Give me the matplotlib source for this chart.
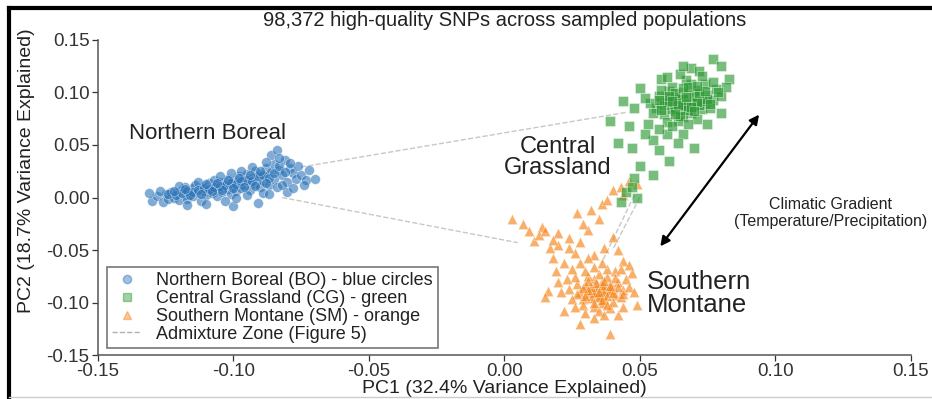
import matplotlib
matplotlib.use("Agg")
from matplotlib import pyplot as plt
from matplotlib.lines import Line2D

plt.rcParams["font.family"] = ["Liberation Sans", "DejaVu Sans"]

# PCA scores (PC1, PC2)
bo_x = [-0.130, -0.128, -0.126, -0.125, -0.124, -0.123, -0.122, -0.121, -0.120, -0.119,
        -0.118, -0.118, -0.117, -0.116, -0.115, -0.115, -0.114, -0.113, -0.112, -0.112,
        -0.111, -0.110, -0.110, -0.109, -0.108, -0.108, -0.107, -0.106, -0.106, -0.105,
        -0.104, -0.104, -0.103, -0.102, -0.102, -0.101, -0.100, -0.100, -0.099, -0.098,
        -0.098, -0.097, -0.096, -0.096, -0.095, -0.094, -0.094, -0.093, -0.092, -0.092,
        -0.091, -0.090, -0.090, -0.089, -0.088, -0.088, -0.087, -0.086, -0.085, -0.085,
        -0.084, -0.083, -0.082, -0.081, -0.080, -0.079, -0.078, -0.077, -0.086, -0.084,
        -0.076, -0.075, -0.073, -0.080, -0.091, -0.100, -0.110, -0.117, -0.103, -0.095,
        -0.089, -0.107, -0.113, -0.097, -0.093, -0.120, -0.127, -0.099, -0.105, -0.088,
        -0.082, -0.078, -0.087, -0.101, -0.070, -0.072, -0.074, -0.131,
        -0.124, -0.121, -0.119, -0.117, -0.115, -0.113, -0.111, -0.109, -0.107, -0.105,
        -0.103, -0.101, -0.099, -0.097, -0.095, -0.093, -0.091, -0.089, -0.087, -0.085,
        -0.116, -0.112, -0.108, -0.104, -0.100, -0.096, -0.092, -0.088, -0.110, -0.106,
        -0.102, -0.098, -0.094, -0.090, -0.118, -0.122, -0.083, -0.081, -0.079, -0.083]
bo_y = [-0.003, 0.001, -0.004, 0.003, -0.001, 0.005, 0.000, 0.004, -0.002, 0.007,
        0.002, 0.010, -0.001, 0.005, 0.009, 0.001, 0.012, 0.004, 0.008, -0.003,
        0.011, 0.006, 0.002, 0.014, 0.009, 0.004, 0.012, 0.007, 0.001, 0.015,
        0.010, 0.005, 0.013, 0.008, 0.018, 0.003, 0.011, 0.016, 0.006, 0.014,
        0.020, 0.009, 0.017, 0.012, 0.022, 0.015, 0.007, 0.019, 0.013, 0.025,
        0.018, 0.010, 0.022, 0.016, 0.028, 0.020, 0.012, 0.024, 0.018, 0.032,
        0.010, 0.026, 0.021, 0.036, 0.015, 0.028, 0.023, 0.018, 0.040, 0.045,
        0.030, 0.021, 0.017, 0.005, -0.005, -0.008, -0.006, -0.007, -0.003, 0.002,
        0.004, 0.017, 0.015, 0.025, 0.029, 0.011, 0.006, 0.000, 0.020, 0.034,
        0.012, 0.009, 0.003, 0.023, 0.018, 0.026, 0.012, 0.004,
        0.003, 0.002, 0.004, 0.006, 0.005, 0.007, 0.009, 0.008, 0.010, 0.011,
        0.012, 0.014, 0.013, 0.016, 0.017, 0.016, 0.020, 0.021, 0.019, 0.023,
        0.002, 0.003, 0.006, 0.007, 0.009, 0.010, 0.011, 0.014, 0.013, 0.014,
        0.017, 0.019, 0.021, 0.025, 0.008, 0.006, 0.030, 0.024, 0.033, 0.038]

cg_x = [0.065, 0.062, 0.068, 0.070, 0.060, 0.066, 0.072, 0.063, 0.058, 0.069,
        0.074, 0.061, 0.067, 0.064, 0.071, 0.056, 0.059, 0.075, 0.073, 0.066,
        0.062, 0.069, 0.057, 0.054, 0.077, 0.078, 0.064, 0.060, 0.071, 0.067,
        0.063, 0.068, 0.055, 0.052, 0.074, 0.080, 0.076, 0.058, 0.070, 0.065,
        0.061, 0.066, 0.072, 0.069, 0.063,
        0.077, 0.069, 0.072, 0.058, 0.083, 0.044, 0.039, 0.048, 0.050, 0.046,
        0.053, 0.061, 0.048, 0.055, 0.070, 0.047, 0.055, 0.060, 0.052, 0.066,
        0.075, 0.080, 0.082, 0.065, 0.060, 0.050, 0.045, 0.047, 0.043, 0.049,
        0.042, 0.057, 0.064,
        0.064, 0.067, 0.070, 0.062, 0.066, 0.073, 0.059, 0.068, 0.071, 0.063,
        0.060, 0.066, 0.075, 0.057, 0.069, 0.072, 0.065, 0.061, 0.074, 0.068,
        0.058, 0.064, 0.070, 0.076, 0.062, 0.067, 0.063, 0.071, 0.079, 0.077,
        0.073, 0.080, 0.066, 0.062, 0.057, 0.068]
cg_y = [0.090, 0.088, 0.093, 0.087, 0.095, 0.100, 0.095, 0.082, 0.090, 0.080,
        0.090, 0.101, 0.085, 0.096, 0.102, 0.085, 0.079, 0.098, 0.084, 0.077,
        0.105, 0.108, 0.097, 0.090, 0.093, 0.103, 0.073, 0.072, 0.075, 0.112,
        0.091, 0.098, 0.080, 0.095, 0.108, 0.097, 0.085, 0.102, 0.092, 0.083,
        0.093, 0.094, 0.088, 0.090, 0.086,
        0.132, 0.123, 0.120, 0.113, 0.113, 0.092, 0.073, 0.085, 0.104, 0.068,
        0.070, 0.035, 0.019, 0.021, 0.047, 0.047, 0.055, 0.060, 0.060, 0.060,
        0.070, 0.080, 0.105, 0.118, 0.115, 0.030, 0.005, 0.010, -0.004, 0.000,
        0.052, 0.045, 0.052,
        0.094, 0.089, 0.097, 0.084, 0.087, 0.092, 0.088, 0.083, 0.091, 0.099,
        0.091, 0.104, 0.094, 0.093, 0.086, 0.099, 0.078, 0.097, 0.101, 0.105,
        0.083, 0.088, 0.082, 0.089, 0.092, 0.096, 0.079, 0.106, 0.100, 0.110,
        0.116, 0.125, 0.125, 0.068, 0.065, 0.070]

sm_x = [0.035, 0.032, 0.038, 0.036, 0.030, 0.040, 0.034, 0.037, 0.031, 0.041,
        0.033, 0.039, 0.028, 0.036, 0.042, 0.029, 0.035, 0.038, 0.031, 0.044,
        0.033, 0.039, 0.027, 0.040, 0.034, 0.036, 0.032, 0.037, 0.043, 0.030,
        0.026, 0.045, 0.041, 0.035, 0.029, 0.024, 0.046, 0.038, 0.033, 0.036,
        0.039, 0.028, 0.033, 0.042, 0.022, 0.016, 0.015, 0.020, 0.047, 0.044,
        0.048, 0.049, 0.031, 0.037, 0.026, 0.040, 0.022, 0.018, 0.028, 0.033,
        0.003, 0.007, 0.014, 0.020, 0.017, 0.011, 0.009, 0.013, 0.024, 0.020,
        0.040, 0.049, 0.036, 0.032, 0.027, 0.044, 0.046, 0.038, 0.043, 0.035,
        0.029, 0.042, 0.025, 0.019, 0.046,
        0.034, 0.037, 0.033, 0.036, 0.039, 0.032, 0.035, 0.038, 0.031, 0.040,
        0.034, 0.037, 0.030, 0.042, 0.036, 0.033, 0.029, 0.041, 0.027, 0.044,
        0.038, 0.031, 0.035, 0.039, 0.025, 0.021, 0.023, 0.043, 0.028, 0.031,
        0.036, 0.024, 0.018, 0.015, 0.037, 0.044, 0.030, 0.026]
sm_y = [-0.085, -0.088, -0.090, -0.080, -0.083, -0.086, -0.094, -0.097, -0.092, -0.093,
        -0.078, -0.082, -0.090, -0.100, -0.080, -0.097, -0.073, -0.076, -0.075, -0.088,
        -0.104, -0.105, -0.082, -0.099, -0.090, -0.087, -0.096, -0.084, -0.095, -0.070,
        -0.076, -0.078, -0.070, -0.108, -0.102, -0.087, -0.085, -0.068, -0.066, -0.093,
        -0.130, -0.120, -0.115, -0.112, -0.108, -0.089, -0.095, -0.080, -0.072, -0.060,
        -0.090, -0.102, -0.031, -0.048, -0.053, -0.038, -0.062, -0.058, -0.042, -0.055,
        -0.020, -0.025, -0.028, -0.034, -0.048, -0.041, -0.032, -0.036, -0.039, -0.045,
        0.007, 0.013, -0.006, -0.012, -0.015, 0.002, 0.016, -0.002, 0.010, -0.020,
        -0.025, -0.050, -0.068, -0.070, -0.064,
        -0.086, -0.089, -0.091, -0.083, -0.088, -0.085, -0.095, -0.094, -0.088, -0.091,
        -0.081, -0.079, -0.094, -0.085, -0.098, -0.100, -0.086, -0.077, -0.092, -0.092,
        -0.102, -0.079, -0.090, -0.084, -0.097, -0.090, -0.078, -0.068, -0.062, -0.058,
        -0.062, -0.048, -0.040, -0.032, -0.112, -0.104, -0.110, -0.104]

# admixture links (x0, x1), (y0, y1)
link_x = [(-0.075, 0.045), (-0.082, 0.005), (0.048, 0.036), (0.050, 0.040)]
link_y = [(0.029, 0.081), (0.000, -0.043), (0.002, -0.062), (0.000, -0.050)]

fig = plt.figure(figsize=(9.32, 3.99), dpi=100)
ax = fig.add_axes([0.105, 0.110, 0.872, 0.790])

for i in range(len(link_x)):
    ax.plot(link_x[i], link_y[i], ls="--", color="#b0b0b0", lw=1.0, alpha=0.7, zorder=1)

ax.scatter(bo_x, bo_y, marker="o", s=50, color="#2c74b8", alpha=0.6,
           edgecolor="white", linewidth=0.4, zorder=2)
ax.scatter(sm_x, sm_y, marker="^", s=55, color="#f5851a", alpha=0.65,
           edgecolor="white", linewidth=0.4, zorder=2)
ax.scatter(cg_x, cg_y, marker="s", s=42, color="#2f9a36", alpha=0.65,
           edgecolor="white", linewidth=0.4, zorder=3)

ax.text(-0.1385, 0.061, "Northern Boreal", fontsize=16, va="center", color="#222222")
ax.text(0.0197, 0.038, "Central\nGrassland", fontsize=17, ha="center", va="center",
        color="#222222", linespacing=0.95)
ax.text(0.0526, -0.0914, "Southern\nMontane", fontsize=18.5, ha="left", va="center",
        color="#222222", linespacing=0.9)

ax.annotate("", xy=(0.0947, 0.081), xytext=(0.057, -0.0486),
            arrowprops=dict(arrowstyle="<|-|>", color="black", lw=1.6, mutation_scale=14))
ax.text(0.1205, -0.0145, "Climatic Gradient\n(Temperature/Precipitation)", fontsize=11.5,
        ha="center", va="center", color="#222222")

ax.set_xlim(-0.15, 0.15)
ax.set_ylim(-0.15, 0.15)
ax.set_xticks([-0.15, -0.10, -0.05, 0.00, 0.05, 0.10, 0.15])
ax.set_yticks([-0.15, -0.10, -0.05, 0.00, 0.05, 0.10, 0.15])
ax.set_xticklabels(["-0.15", "-0.10", "-0.05", "0.00", "0.05", "0.10", "0.15"])
ax.set_yticklabels(["-0.15", "-0.10", "-0.05", "0.00", "0.05", "0.10", "0.15"])
ax.tick_params(labelsize=13.5, colors="#333333", length=4, width=0.9, pad=2)
ax.spines["top"].set_visible(False)
ax.spines["right"].set_visible(False)
ax.spines["left"].set_color("#555555")
ax.spines["bottom"].set_color("#555555")
ax.spines["left"].set_linewidth(1.1)
ax.spines["bottom"].set_linewidth(1.1)
ax.set_xlabel("PC1 (32.4% Variance Explained)", fontsize=14, color="#222222", labelpad=0)
ax.set_ylabel("PC2 (18.7% Variance Explained)", fontsize=14, color="#222222")
ax.yaxis.set_label_coords(-0.077, 0.585)
ax.set_title("98,372 high-quality SNPs across sampled populations", fontsize=14.5,
             color="#222222", pad=10)

handles = [
    Line2D([], [], marker="o", ls="", color="#2c74b8", alpha=0.45, markersize=6),
    Line2D([], [], marker="s", ls="", color="#2f9a36", alpha=0.45, markersize=6),
    Line2D([], [], marker="^", ls="", color="#f5851a", alpha=0.45, markersize=6),
    Line2D([], [], ls="--", color="#b0b0b0", lw=1.0),
]
labels = ["Northern Boreal (BO) - blue circles", "Central Grassland (CG) - green",
          "Southern Montane (SM) - orange", "Admixture Zone (Figure 5)"]
leg = ax.legend(handles, labels, loc="lower left", bbox_to_anchor=(0.011, 0.022),
                borderaxespad=0, fontsize=13, frameon=True, fancybox=False,
                borderpad=0.3, labelspacing=0.05, handlelength=1.6, handletextpad=0.8)
leg.get_frame().set_edgecolor("#555555")
leg.get_frame().set_linewidth(1.2)
for t in leg.get_texts():
    t.set_color("#222222")

# outer frame of the image
fig.add_artist(Line2D([0.0095, 1.0], [0.980, 0.980], color="black", lw=3))
fig.add_artist(Line2D([0.0095, 0.0095], [0.0, 0.980], color="black", lw=3))
fig.add_artist(Line2D([0.0095, 1.0], [0.006, 0.006], color="#cccccc", lw=1))

fig.savefig("out.png", dpi=100)
